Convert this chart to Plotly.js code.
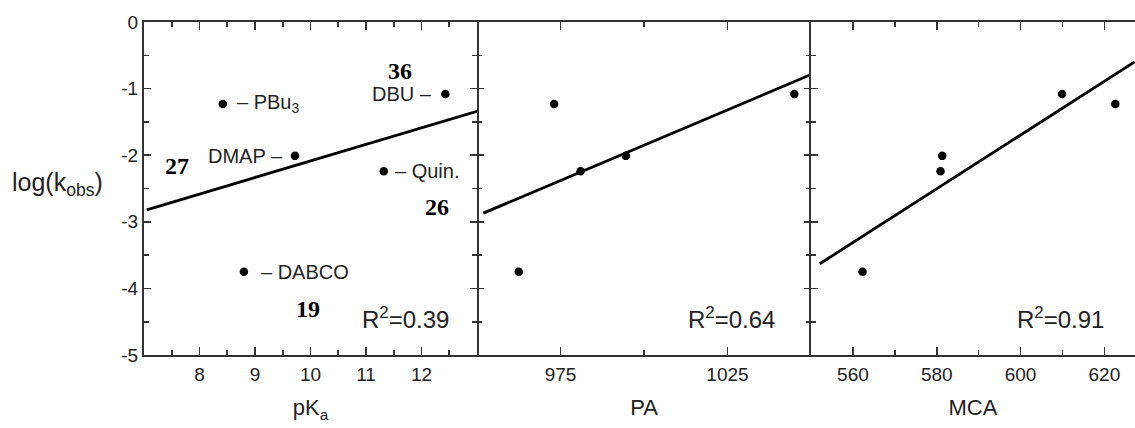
<!DOCTYPE html>
<html><head><meta charset="utf-8">
<script src="https://cdn.plot.ly/plotly-3.0.1.min.js"></script>
<style>html,body{margin:0;padding:0;background:#fff}#chart{width:1135px;height:428px}</style>
</head><body><div id="chart"></div>
<script>
// ---- data ----
const compounds = ['PBu<sub>3</sub>', 'DBU', 'DMAP', 'Quin.', 'DABCO'];
const compoundNumbers = ['', '36', '27', '26', '19'];
const logk = [-1.23, -1.08, -2.01, -2.24, -3.75];
const pKa  = [8.42, 12.43, 9.72, 11.32, 8.80];
const PA   = [973.1, 1045.0, 994.6, 981.0, 962.5];
const MCA  = [622.6, 609.9, 581.3, 580.9, 562.3];
// fitted lines (endpoints)
const fitPKaX = [7.05, 13.0],    fitPKaY = [-2.82, -1.34];
const fitPAX  = [951.9, 1049.5], fitPAY  = [-2.87, -0.80];
const fitMCAX = [552.1, 627.2],  fitMCAY = [-3.63, -0.60];
const r2Text = ['R<sup>2</sup>=0.39', 'R<sup>2</sup>=0.64', 'R<sup>2</sup>=0.91'];
const pKaTicks = [8, 9, 10, 11, 12];
const PATicks = [975, 1025];
const MCATicks = [560, 580, 600, 620];
const yTicks = [0, -1, -2, -3, -4, -5];
const yTickText = ['0', '-1', '-2', '-3', '-4', '-5'];
// compound-number label positions (in pKa panel coordinates)
const numX = [null, 11.61, 7.59, 12.28, 9.95];
const numY = [null, -0.73, -2.16, -2.78, -4.31];

const SANS = 'Liberation Sans, Arial, Helvetica, sans-serif';
const SERIF = 'Liberation Serif, Times New Roman, serif';
const AX = '#333';
const TXT = '#222';

const marker = {color: '#000', size: 8.5};
const lineStyle = {color: '#000', width: 2.8};
const traces = [
  {x: pKa, y: logk, xaxis: 'x', yaxis: 'y', mode: 'markers', marker, type: 'scatter'},
  {x: fitPKaX, y: fitPKaY, xaxis: 'x', yaxis: 'y', mode: 'lines', line: lineStyle, type: 'scatter'},
  {x: PA, y: logk, xaxis: 'x2', yaxis: 'y2', mode: 'markers', marker, type: 'scatter'},
  {x: fitPAX, y: fitPAY, xaxis: 'x2', yaxis: 'y2', mode: 'lines', line: lineStyle, type: 'scatter'},
  {x: MCA, y: logk, xaxis: 'x3', yaxis: 'y3', mode: 'markers', marker, type: 'scatter'},
  {x: fitMCAX, y: fitMCAY, xaxis: 'x3', yaxis: 'y3', mode: 'lines', line: lineStyle, type: 'scatter'}
];

const d1 = (477 - 144) / 991, d2 = (811 - 144) / 991;

function xax(domain, range, tickvals, minorTick0, minorDtick, anchor, title) {
  return {
    domain, range, anchor, tickmode: 'array', tickvals,
    ticks: 'inside', ticklen: 8, tickwidth: 1.6, tickcolor: AX,
    minor: {tickmode: 'linear', tick0: minorTick0, dtick: minorDtick, ticks: 'inside', ticklen: 5, tickwidth: 1.6, tickcolor: AX},
    showline: true, linecolor: AX, linewidth: 2, mirror: 'ticks',
    showgrid: false, zeroline: false, fixedrange: true,
    tickfont: {family: SANS, size: 19, color: TXT}, ticklabelstandoff: 1,
    title: {text: title, font: {family: SANS, size: 22, color: TXT}, standoff: 16}
  };
}
function yax(anchor, labels, mirror, line) {
  return {
    domain: [0, 1], range: [-5, 0], anchor, tickmode: 'array', tickvals: yTicks, ticktext: yTickText,
    ticks: 'inside', ticklen: 7, tickwidth: 1.6, tickcolor: AX,
    minor: {tickmode: 'linear', tick0: 0, dtick: 0.5, ticks: 'inside', ticklen: 5, tickwidth: 1.6, tickcolor: AX},
    showline: line, linecolor: AX, linewidth: 2, mirror,
    showgrid: false, zeroline: false, fixedrange: true,
    showticklabels: labels, tickfont: {family: SANS, size: 19, color: TXT}, ticklabelstandoff: 0
  };
}

const annotations = [];
// compound labels next to the pKa points
const labelCfg = [
  {side: 'left', shift: 12},   // PBu3
  {side: 'right', shift: -11}, // DBU
  {side: 'right', shift: -10}, // DMAP
  {side: 'left', shift: 9},    // Quin.
  {side: 'left', shift: 15}    // DABCO
];
compounds.forEach((c, i) => {
  const cfg = labelCfg[i];
  annotations.push({
    xref: 'x', yref: 'y', x: pKa[i], y: logk[i], showarrow: false,
    xanchor: cfg.side === 'left' ? 'left' : 'right', yanchor: 'middle', xshift: cfg.shift,
    text: cfg.side === 'left' ? '\u2013 ' + c : c + ' \u2013',
    font: {family: SANS, size: 20, color: TXT}
  });
});
compoundNumbers.forEach((n, i) => {
  if (!n) return;
  annotations.push({
    xref: 'x', yref: 'y', x: numX[i], y: numY[i], showarrow: false,
    xanchor: 'center', yanchor: 'middle', text: '<b>' + n + '</b>',
    font: {family: SERIF, size: 24, color: '#000'}
  });
});
const r2Pos = [[0.922, 'x'], [0.898, 'x2'], [0.91, 'x3']];
r2Text.forEach((t, i) => {
  annotations.push({
    xref: r2Pos[i][1] + ' domain', yref: 'y domain', x: r2Pos[i][0], y: 0.111,
    xanchor: 'right', yanchor: 'middle', showarrow: false, text: t,
    font: {family: SANS, size: 24, color: TXT}
  });
});
annotations.push({
  xref: 'paper', yref: 'paper', x: -144 / 991, y: (355 - 184) / 333, xanchor: 'left', yanchor: 'middle',
  showarrow: false, xshift: 10, text: 'log(k<sub>obs</sub>)', font: {family: SANS, size: 25, color: TXT}
});

const layout = {
  width: 1135, height: 428,
  margin: {l: 144, r: 0, t: 22, b: 73},
  paper_bgcolor: '#fff', plot_bgcolor: '#fff', showlegend: false,
  xaxis: xax([0, d1], [7, 13], pKaTicks, 7, 0.5, 'y', 'pK<sub>a</sub>'),
  xaxis2: xax([d1, d2], [950, 1050], PATicks, 950, 25, 'y2', 'PA'),
  xaxis3: xax([d2, 1], [550, 627.3], MCATicks, 550, 10, 'y3', 'MCA'),
  yaxis: yax('x', true, 'ticks', true),
  yaxis2: yax('x2', false, 'ticks', false),
  yaxis3: yax('x3', false, false, true),
  annotations
};
Plotly.newPlot('chart', traces, layout, {displayModeBar: false, staticPlot: true});
</script></body></html>
